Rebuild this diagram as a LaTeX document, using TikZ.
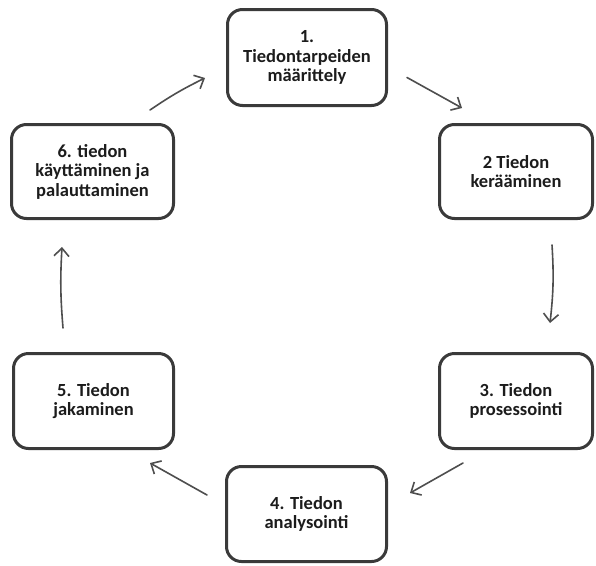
\documentclass[tikz,border=0pt]{standalone}
\usepackage{fontspec}
\setmainfont{Carlito}
\usetikzlibrary{arrows.meta}
\definecolor{boxline}{HTML}{3A3A3A}
\definecolor{arrowline}{HTML}{4E4E4E}
\definecolor{txt}{HTML}{1C1C1C}
\begin{document}
\begin{tikzpicture}[x=1pt,y=-1pt,
  phase/.style={draw=boxline, line width=3pt, rounded corners=15pt, fill=white,
    inner sep=0pt, align=center, text=txt,
    font=\fontsize{18.5}{19.5}\selectfont\bfseries},
  flow/.style={draw=arrowline, line width=1.6pt, line cap=round,
    -{Straight Barb[length=8pt,width=15pt,line width=1.6pt]}}]
\useasboundingbox (0,0) rectangle (596,565);
\fill[white] (0,0) rectangle (596,565);

% the six phases of the cycle
\node[phase, minimum width=159pt, minimum height=96pt] (n1) at (307,57.5)
  {1.\\Tiedontarpeiden\\määrittely};
\node[phase, minimum width=153pt, minimum height=94pt] (n2) at (516,171.5)
  {2 Tiedon\\kerääminen};
\node[phase, minimum width=153pt, minimum height=95pt] (n3) at (516,401)
  {3. Tiedon\\prosessointi};
\node[phase, minimum width=160pt, minimum height=95pt] (n4) at (306.5,514)
  {4. Tiedon\\analysointi};
\node[phase, minimum width=160pt, minimum height=95pt] (n5) at (93.5,401)
  {5. Tiedon\\jakaminen};
\node[phase, minimum width=162pt, minimum height=94pt] (n6) at (92.5,171.5)
  {6. tiedon\\käyttäminen ja\\palauttaminen};

% arrows between consecutive phases
\draw[flow] ([shift={(19,20)}]n1.east) -- ([shift={(-54,-15)}]n2.north);
\draw[flow] ([shift={(36,25)}]n2.south) to[bend left=5] ([shift={(34,-29)}]n3.north);
\draw[flow] ([shift={(-53,13)}]n3.south) -- ([shift={(22,-21)}]n4.east);
\draw[flow] ([shift={(-18,-19)}]n4.west) -- ([shift={(56.5,13)}]n5.south);
\draw[flow] ([shift={(-30.5,-24)}]n5.north) to[bend left=4] ([shift={(-30.5,27)}]n6.south);
\draw[flow] ([shift={(57.5,-13)}]n6.north) to[bend left=4] ([shift={(-21,20.5)}]n1.west);
\end{tikzpicture}
\end{document}
